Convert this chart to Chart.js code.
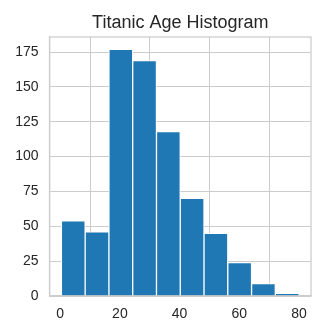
<!DOCTYPE html>
<html>
<head>
<meta charset="utf-8">
<script src="https://cdn.jsdelivr.net/npm/chart.js@4/dist/chart.umd.min.js"></script>
<style>
  html, body { margin: 0; padding: 0; background: #fff; }
</style>
</head>
<body>
<canvas id="hist" width="331" height="326"></canvas>
<script>
// bin edges of the age histogram (10 bins, 0.42 .. 80)
const binEdges = [0.42, 8.378, 16.336, 24.294, 32.252, 40.21, 48.168, 56.126, 64.084, 72.042, 80];
const counts = [54, 46, 177, 169, 118, 70, 45, 24, 9, 2];
const xTicks = [0, 20, 40, 60, 80];
const yTicks = [0, 25, 50, 75, 100, 125, 150, 175];
const titleText = "Titanic Age Histogram";

const fontFamily = "'Liberation Sans', Arial, sans-serif";
const gridColor = "#cccccc";
const textColor = "#262626";

const points = counts.map((c, i) => ({ x: (binEdges[i] + binEdges[i + 1]) / 2, y: c }));
const span = binEdges[binEdges.length - 1] - binEdges[0];

// box around the plot (top and right spines) + title centred over the axes
const frame = {
  id: "frame",
  afterDatasetsDraw(chart) {
    const a = chart.chartArea;
    const ctx = chart.ctx;
    ctx.save();
    ctx.strokeStyle = gridColor;
    ctx.lineWidth = 1.25;
    ctx.strokeRect(a.left, a.top, a.right - a.left, a.bottom - a.top);
    ctx.fillStyle = textColor;
    ctx.font = "18px " + fontFamily;
    ctx.textAlign = "center";
    ctx.textBaseline = "alphabetic";
    ctx.fillText(titleText, (a.left + a.right) / 2, 28);
    ctx.restore();
  },
};

new Chart(document.getElementById("hist"), {
  type: "bar",
  data: {
    datasets: [
      {
        data: points,
        backgroundColor: "#1f77b4",
        borderColor: "#ffffff",
        borderWidth: 1,
        borderSkipped: "bottom",
        barPercentage: 1,
        categoryPercentage: 1,
      },
    ],
  },
  options: {
    responsive: false,
    animation: false,
    layout: { padding: { left: 0, right: 20, top: 37, bottom: 0 } },
    plugins: {
      legend: { display: false },
      tooltip: { enabled: false },
      title: { display: false },
    },
    scales: {
      x: {
        type: "linear",
        offset: false,
        min: binEdges[0] - span * 0.05,
        max: binEdges[binEdges.length - 1] + span * 0.05,
        afterBuildTicks: (scale) => { scale.ticks = xTicks.map((v) => ({ value: v })); },
        afterFit: (scale) => { scale.height = 30; },
        grid: { color: gridColor, lineWidth: 1, drawTicks: false },
        border: { color: gridColor, width: 1.25 },
        ticks: {
          color: textColor,
          font: { family: fontFamily, size: 14 },
          padding: 10,
          maxRotation: 0,
        },
      },
      y: {
        min: 0,
        max: Math.max(...counts) * 1.05,
        afterBuildTicks: (scale) => { scale.ticks = yTicks.map((v) => ({ value: v })); },
        afterFit: (scale) => { scale.width = 49.5; },
        grid: { color: gridColor, lineWidth: 1, drawTicks: false },
        border: { color: gridColor, width: 1.25 },
        ticks: {
          color: textColor,
          font: { family: fontFamily, size: 14 },
          padding: 11,
        },
      },
    },
  },
  plugins: [frame],
});
</script>
</body>
</html>
